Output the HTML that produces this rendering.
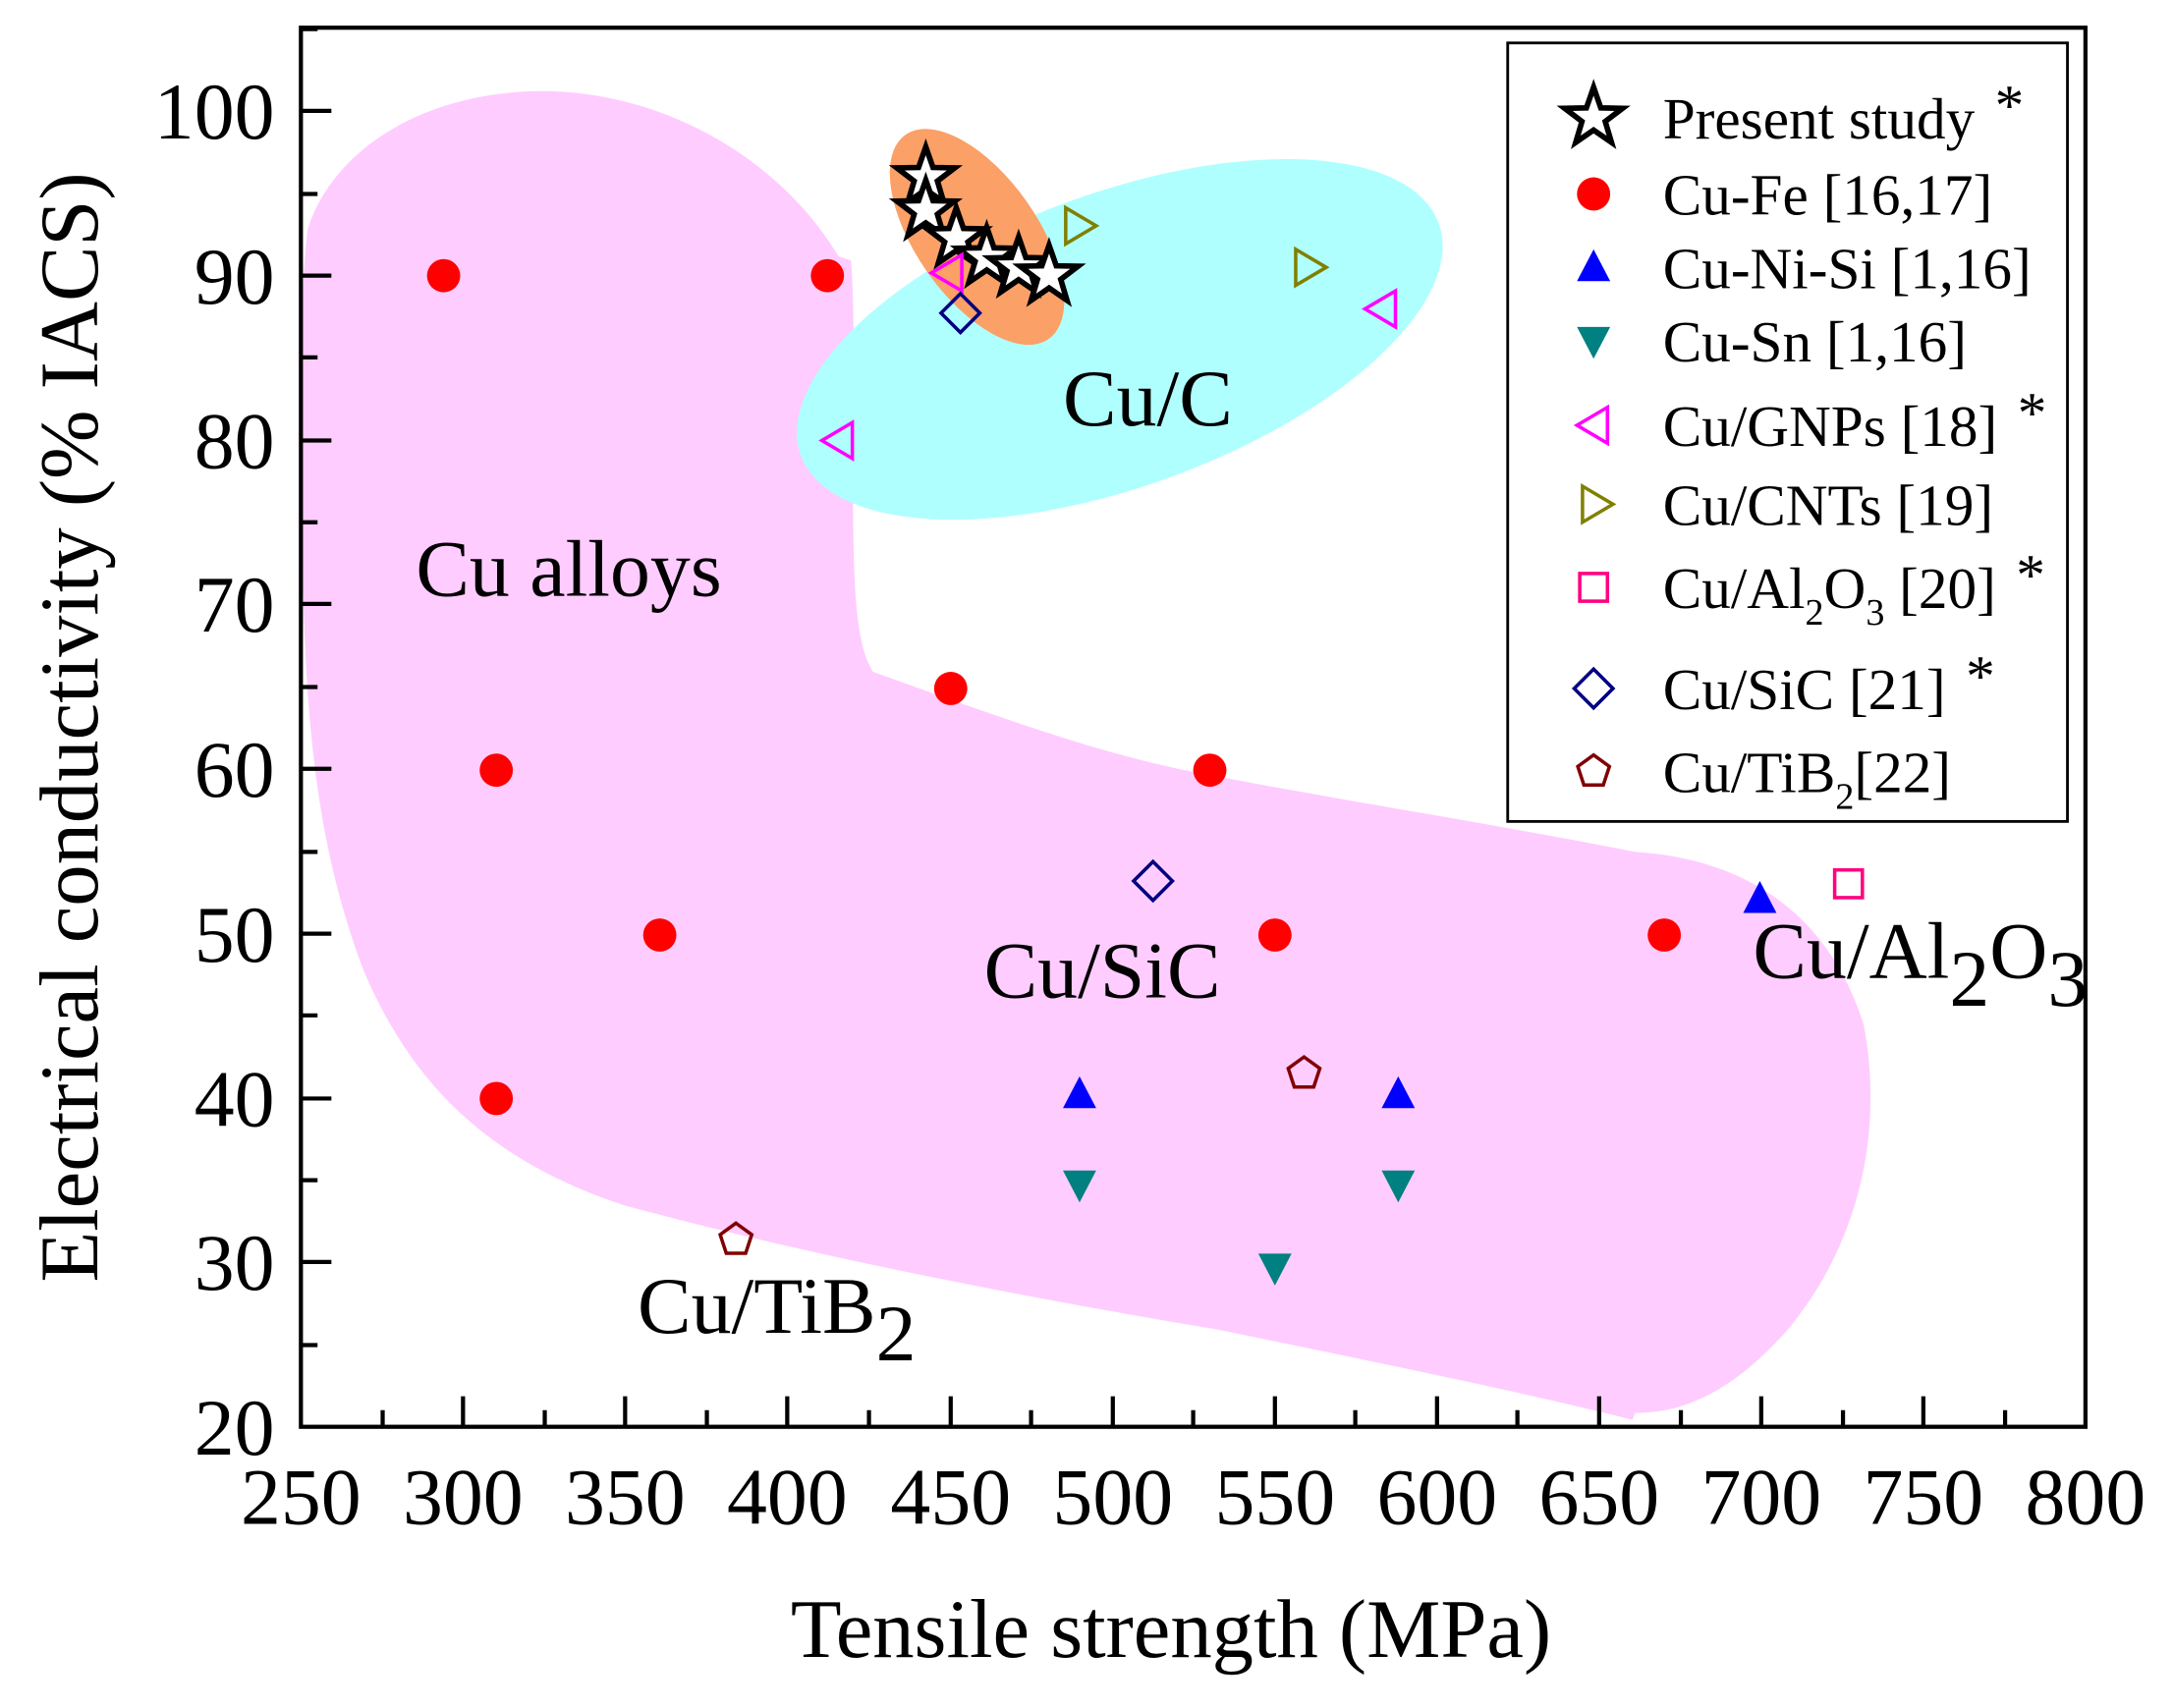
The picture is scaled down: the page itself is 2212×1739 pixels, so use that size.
<!DOCTYPE html>
<html><head><meta charset="utf-8"><style>html,body{margin:0;padding:0;background:#fff}svg{display:block}</style></head><body>
<svg width="2212" height="1739" viewBox="0 0 1568 1233" xmlns="http://www.w3.org/2000/svg" font-family="'Liberation Serif',serif">
<defs>
<path id="star" d="M0,-22 L5.2,-7.1 L20.9,-6.8 L8.4,2.7 L12.9,17.8 L0,8.9 L-12.9,17.8 L-8.4,2.7 L-20.9,-6.8 L-5.2,-7.1Z" fill="#fff" stroke="#000" stroke-width="4" stroke-linejoin="miter"/>
<circle id="cir" r="12" fill="#ff0000"/>
<path id="tup" d="M0,-13 L12,10 L-12,10Z" fill="#0000ff"/>
<path id="tdn" d="M0,13 L12,-10 L-12,-10Z" fill="#008080"/>
<path id="tlf" d="M-12,0 L10,-13 L10,13Z" fill="none" stroke="#ff00ff" stroke-width="2.5"/>
<path id="trt" d="M12,0 L-10,-13 L-10,13Z" fill="none" stroke="#808000" stroke-width="2.5"/>
<rect id="sq" x="-10" y="-10" width="20" height="20" fill="none" stroke="#ff0080" stroke-width="2.5"/>
<path id="dia" d="M0,-14 L14,0 L0,14 L-14,0Z" fill="none" stroke="#000080" stroke-width="2.5"/>
<path id="pen" d="M0,-12 L11.4,-3.7 L7,9.7 L-7,9.7 L-11.4,-3.7Z" fill="none" stroke="#800000" stroke-width="2.5"/>
</defs>
<path d="M222,165 C240,110 300,70 380,66 C470,62 560,110 605,185 L614,188 C618,240 614,320 616,400 C617,440 620,470 630,485 C700,510 780,540 850,555 C950,575 1080,595 1180,615 C1260,620 1320,660 1345,740 C1360,820 1340,900 1290,960 C1250,1005 1215,1020 1180,1020 L1178,1025 C1100,1005 1000,985 880,960 C700,930 560,900 450,870 C360,840 300,790 262,700 C228,610 220,520 218,400 C217,300 215,220 222,165Z" fill="#ffccff"/>
<ellipse cx="808" cy="245" rx="245" ry="106" transform="rotate(-20 808 245)" fill="#b0ffff"/>
<ellipse cx="705" cy="171" rx="90" ry="44" transform="rotate(55 705 171)" fill="#fba066"/>
<rect x="217" y="20" width="1288" height="1010" fill="none" stroke="#000" stroke-width="3"/>
<g stroke="#000" stroke-width="3">
<path d="M334,1030v-22M451,1030v-22M568,1030v-22M686,1030v-22M803,1030v-22M920,1030v-22M1037,1030v-22M1154,1030v-22M1271,1030v-22M1388,1030v-22"/>
<path d="M276,1030v-12M393,1030v-12M510,1030v-12M627,1030v-12M744,1030v-12M861,1030v-12M978,1030v-12M1095,1030v-12M1213,1030v-12M1330,1030v-12M1447,1030v-12"/>
<path d="M217,911h22M217,793h22M217,674h22M217,555h22M217,436h22M217,318h22M217,199h22M217,80h22"/>
<path d="M217,971h12M217,852h12M217,733h12M217,615h12M217,496h12M217,377h12M217,258h12M217,140h12M217,21h12"/>
</g>
<g font-size="58" text-anchor="middle" fill="#000">
<text x="217" y="1100">250</text><text x="334" y="1100">300</text><text x="451" y="1100">350</text><text x="568" y="1100">400</text><text x="686" y="1100">450</text><text x="803" y="1100">500</text><text x="920" y="1100">550</text><text x="1037" y="1100">600</text><text x="1154" y="1100">650</text><text x="1271" y="1100">700</text><text x="1388" y="1100">750</text><text x="1505" y="1100">800</text>
</g>
<g font-size="58" text-anchor="end" fill="#000">
<text x="198" y="1050">20</text><text x="198" y="931">30</text><text x="198" y="813">40</text><text x="198" y="694">50</text><text x="198" y="575">60</text><text x="198" y="456">70</text><text x="198" y="338">80</text><text x="198" y="219">90</text><text x="198" y="100">100</text>
</g>
<text x="845" y="1196" font-size="60" text-anchor="middle">Tensile strength (MPa)</text>
<text transform="translate(70,525) rotate(-90)" font-size="60" text-anchor="middle">Electrical conductivity (% IACS)</text>
<g font-size="58" fill="#000">
<text x="767" y="307">Cu/C</text>
<text x="300" y="430">Cu alloys</text>
<text x="710" y="720">Cu/SiC</text>
<text x="1265" y="706">Cu/Al<tspan dy="20">2</tspan><tspan dy="-20">O</tspan><tspan dy="20">3</tspan></text>
<text x="460" y="962">Cu/TiB<tspan dy="20">2</tspan></text>
</g>
<use href="#cir" x="320" y="199"/><use href="#cir" x="597" y="199"/><use href="#cir" x="358" y="556"/><use href="#cir" x="686" y="497"/><use href="#cir" x="873" y="556"/><use href="#cir" x="358" y="793"/><use href="#cir" x="476" y="675"/><use href="#cir" x="920" y="675"/><use href="#cir" x="1201" y="675"/>
<use href="#tup" x="779" y="790"/><use href="#tup" x="1009" y="790"/><use href="#tup" x="1270" y="649"/>
<use href="#tdn" x="779" y="855"/><use href="#tdn" x="1009" y="855"/><use href="#tdn" x="920" y="915"/>
<use href="#tlf" x="605" y="318"/><use href="#tlf" x="997" y="223"/>
<use href="#trt" x="779" y="163"/><use href="#trt" x="945" y="193"/>
<use href="#sq" x="1334" y="638"/>
<use href="#dia" x="832" y="636"/>
<use href="#pen" x="531" y="895"/><use href="#pen" x="941" y="775"/>
<use href="#star" x="668" y="128"/><use href="#star" x="668" y="152"/><use href="#star" x="690" y="172"/><use href="#star" x="712" y="186"/><use href="#star" x="735" y="193"/><use href="#star" x="757" y="199"/>
<use href="#tlf" x="684" y="197"/>
<use href="#dia" x="693" y="226"/>
<rect x="1088" y="31" width="404" height="562" fill="#fff" stroke="#000" stroke-width="2"/>
<use href="#star" x="1150" y="85"/><use href="#cir" x="1150" y="140"/><use href="#tup" x="1150" y="193"/><use href="#tdn" x="1150" y="246"/><use href="#tlf" x="1150" y="307"/><use href="#trt" x="1152" y="364"/><use href="#sq" x="1150" y="424"/><use href="#dia" x="1150" y="497"/><use href="#pen" x="1150" y="557"/>
<g font-size="42" fill="#000">
<text x="1200" y="100">Present study <tspan dx="4" dy="-10">*</tspan></text>
<text x="1200" y="155">Cu-Fe [16,17]</text>
<text x="1200" y="208">Cu-Ni-Si [1,16]</text>
<text x="1200" y="261">Cu-Sn [1,16]</text>
<text x="1200" y="322">Cu/GNPs [18] <tspan dx="4" dy="-10">*</tspan></text>
<text x="1200" y="379">Cu/CNTs [19]</text>
<text x="1200" y="439">Cu/Al<tspan font-size="27" dy="12">2</tspan><tspan dy="-12">O</tspan><tspan font-size="27" dy="12">3</tspan><tspan dy="-12"> [20] </tspan><tspan dx="4" dy="-10">*</tspan></text>
<text x="1200" y="512">Cu/SiC [21] <tspan dx="4" dy="-10">*</tspan></text>
<text x="1200" y="572">Cu/TiB<tspan font-size="27" dy="12">2</tspan><tspan dy="-12">[22]</tspan></text>
</g>
</svg>
</body></html>
